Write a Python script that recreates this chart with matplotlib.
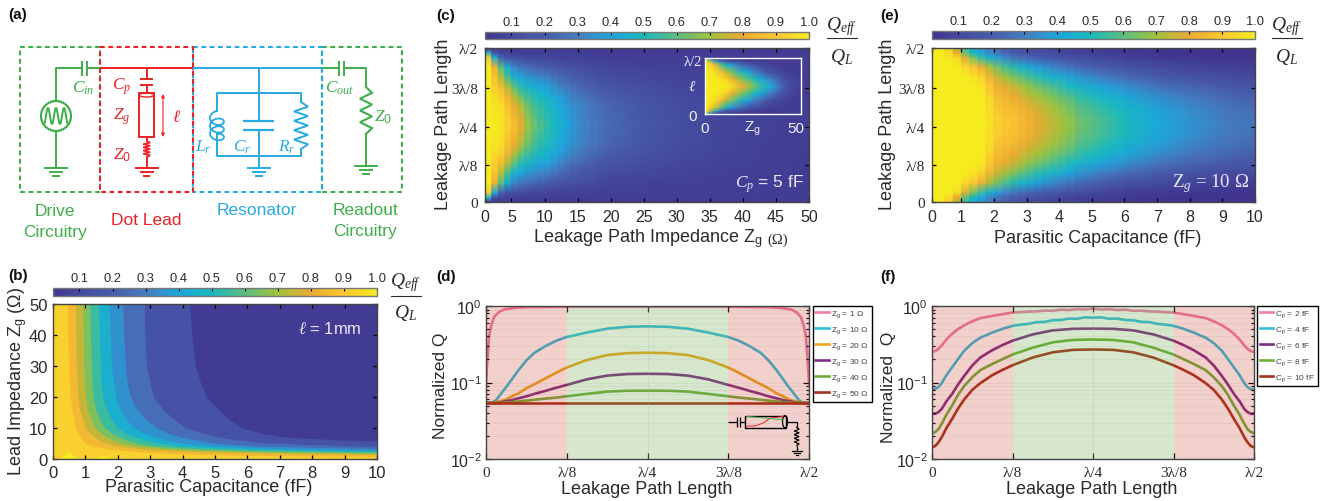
import matplotlib
matplotlib.use('Agg')
import matplotlib.pyplot as plt
from matplotlib.cm import ScalarMappable
from matplotlib.colors import LinearSegmentedColormap, Normalize
from matplotlib.lines import Line2D
from matplotlib.patches import Ellipse
import numpy as np

W, H = 1330, 502

plt.rcParams['font.family'] = ['Liberation Sans', 'DejaVu Sans']
plt.rcParams['mathtext.fontset'] = 'custom'
plt.rcParams['mathtext.rm'] = 'Liberation Sans'
plt.rcParams['mathtext.it'] = 'Liberation Serif:italic'
plt.rcParams['mathtext.bf'] = 'Liberation Sans:bold'
plt.rcParams['mathtext.fallback'] = 'cm'
TXT = '#2a2a2a'

# colour scale
cb_values = [0.02, 0.1, 0.2, 0.3, 0.4, 0.5, 0.6, 0.7, 0.8, 0.9, 1.0]
cb_colors = ['#40348f', '#444a9e', '#485cac', '#447dc0', '#1ea5dc', '#19b9be',
             '#5abe82', '#a0c33c', '#ebaa32', '#fac832', '#f5eb1e']
cb_ticks = [0.1, 0.2, 0.3, 0.4, 0.5, 0.6, 0.7, 0.8, 0.9, 1.0]

# panel b, capacitance where each Q level is reached at each impedance
b_z = [50, 40, 30, 25, 20, 16, 13, 10, 8, 7, 6, 5, 4, 3, 2.5, 2, 1.5, 1, 0.5, 0]
b_levels = [0.1, 0.2, 0.3, 0.4, 0.5, 0.6, 0.7, 0.8, 0.9]
b_c_01 = [4.23, 4.3, 4.4, 4.55, 4.74, 5.1, 5.4, 5.8, 6.5, 7.1, 8.8, 12, 30, 60, 60, 60, 60, 60, 60, 60]
b_c_02 = [2.84, 2.85, 2.9, 3.0, 3.1, 3.4, 3.7, 4.1, 4.7, 5.1, 5.7, 6.6, 9.5, 20, 60, 60, 60, 60, 60, 60]
b_c_03 = [2.16, 2.2, 2.25, 2.3, 2.4, 2.6, 2.85, 3.2, 3.6, 3.95, 4.4, 5, 6.2, 11, 20, 60, 60, 60, 60, 60]
b_c_04 = [1.75, 1.78, 1.82, 1.88, 1.95, 2.08, 2.25, 2.5, 2.85, 3.15, 3.5, 4, 5, 7.5, 11, 20, 40, 60, 60, 60]
b_c_05 = [1.42, 1.45, 1.48, 1.5, 1.55, 1.66, 1.8, 2, 2.3, 2.55, 2.85, 3.2, 4, 6, 8.5, 13, 25, 60, 60, 60]
b_c_06 = [1.15, 1.17, 1.2, 1.22, 1.25, 1.33, 1.44, 1.6, 1.85, 2.05, 2.3, 2.6, 3.2, 4.6, 6.3, 10, 18, 50, 60, 60]
b_c_07 = [.93, .95, .97, .99, 1.02, 1.08, 1.17, 1.3, 1.5, 1.65, 1.85, 2.1, 2.6, 3.7, 5, 7, 11.5, 30, 60, 60]
b_c_08 = [.7, .72, .74, .76, .78, .84, .91, 1, 1.17, 1.3, 1.42, 1.6, 2, 2.8, 3.7, 5, 7.8, 14, 40, 60]
b_c_09 = [.46, .47, .5, .52, .55, .6, .65, .7, .8, .85, .92, 1, 1.25, 1.8, 2.3, 3, 4, 6, 12, 60]
b_curves = [b_c_01, b_c_02, b_c_03, b_c_04, b_c_05, b_c_06, b_c_07, b_c_08, b_c_09]
b_peak_c = [0.2, 0.5, 0.8]
b_peak_z = [0, 2.2, 0]
b_peak2_c = [1.3, 1.5, 1.8]
b_peak2_z = [0, 1, 0]

# panel c, half of the lead length (the other half is the same)
c_z = [1, 2, 3, 4, 5, 6, 7, 8, 9, 10, 11, 12, 13, 14, 15, 16, 17, 18, 20, 25, 30, 35, 40, 45, 50]
c_h = [0, 0.015, 0.03, 0.0625, 0.125, 0.1875, 0.25, 0.3125, 0.375, 0.5]
c_q = [
    [.10, .06, .055, .055, .055, .055, .054, .054, .054, .054, .054, .054, .054, .054, .054, .054, .054, .054, .054, .054, .054, .054, .054, .054, .054],
    [.25, .08, .06, .058, .056, .055, .055, .055, .055, .054, .054, .054, .054, .054, .054, .054, .054, .054, .054, .054, .054, .054, .054, .054, .054],
    [.50, .15, .09, .07, .065, .06, .06, .058, .056, .058, .055, .055, .055, .055, .055, .055, .054, .054, .054, .054, .054, .054, .054, .054, .054],
    [.90, .45, .22, .15, .12, .105, .10, .095, .09, .087, .08, .075, .072, .07, .068, .066, .065, .063, .06, .058, .057, .056, .055, .054, .054],
    [1, .82, .60, .42, .33, .28, .25, .23, .21, .194, .18, .165, .15, .14, .127, .115, .105, .098, .084, .075, .066, .06, .058, .055, .054],
    [1, .88, .72, .56, .45, .40, .36, .34, .32, .305, .27, .24, .22, .20, .18, .165, .15, .14, .115, .095, .0785, .07, .0617, .057, .054],
    [1, .92, .85, .72, .60, .52, .47, .44, .41, .393, .35, .31, .28, .25, .23, .21, .195, .18, .157, .12, .093, .078, .066, .058, .054],
    [1, .95, .92, .82, .72, .62, .56, .52, .48, .45, .42, .38, .34, .31, .285, .26, .245, .225, .197, .15, .11, .09, .071, .06, .054],
    [1, .98, .96, .87, .80, .72, .63, .57, .53, .505, .46, .41, .37, .34, .315, .29, .275, .255, .228, .165, .123, .098, .076, .062, .055],
    [1, 1, .98, .92, .87, .80, .70, .63, .58, .542, .50, .45, .41, .36, .33, .31, .29, .27, .245, .17, .13, .10, .078, .065, .055],
]

# inset of panel c
i_z = [0, 2, 5, 8, 11, 14, 17, 20, 23, 26, 29, 32, 35, 38, 41, 44, 50]
i_h = [0, 0.03, 0.0625, 0.125, 0.25, 0.375, 0.5]
i_q = [
    [.60, .20, .08, .05, .05, .05, .05, .05, .05, .05, .05, .05, .05, .05, .05, .05, .05],
    [.97, .60, .25, .13, .10, .08, .07, .06, .05, .05, .05, .05, .05, .05, .05, .05, .05],
    [1, .85, .55, .30, .20, .15, .12, .10, .08, .07, .06, .05, .05, .05, .05, .05, .05],
    [1, .97, .85, .65, .50, .38, .30, .24, .18, .14, .11, .08, .07, .06, .05, .05, .05],
    [1, 1, .97, .88, .75, .65, .55, .47, .40, .30, .25, .18, .14, .10, .08, .06, .05],
    [1, 1, 1, .98, .92, .82, .72, .65, .58, .50, .42, .35, .30, .22, .15, .10, .06],
    [1, 1, 1, 1, 1, .97, .88, .80, .72, .64, .56, .48, .41, .32, .20, .13, .06],
]

# panel e, one list per capacitance, low end of the lead up to the middle
e_c = [0, .25, .5, .75, 1, 1.25, 1.5, 1.75, 2, 2.25, 2.5, 2.75, 3, 3.25, 3.5, 3.75, 4, 4.25, 4.5, 4.75,
       5, 5.25, 5.5, 5.75, 6, 7, 8, 9, 10]
e_h = [0, 0.03, 0.0625, 0.125, 0.1875, 0.25, 0.3125, 0.375, 0.4375, 0.5]
e_cols = [
    [1, 1, 1, 1, 1, 1, 1, 1, 1, 1],
    [.99, 1, 1, 1, 1, 1, 1, 1, 1, 1],
    [.90, .95, 1, 1, 1, 1, 1, 1, 1, 1],
    [.72, .80, .95, 1, 1, 1, 1, 1, 1, 1],
    [.55, .62, .78, .95, 1, 1, 1, 1, 1, 1],
    [.43, .49, .65, .89, .97, 1, 1, 1, 1, 1],
    [.35, .40, .55, .82, .93, .98, 1, 1, 1, 1],
    [.29, .33, .46, .72, .83, .90, .93, .95, .96, .97],
    [.245, .272, .386, .637, .745, .82, .86, .885, .905, .92],
    [.205, .23, .33, .575, .695, .785, .83, .865, .885, .90],
    [.17, .19, .28, .52, .65, .75, .80, .85, .87, .88],
    [.145, .165, .25, .47, .605, .71, .765, .815, .84, .85],
    [.125, .14, .22, .42, .56, .67, .73, .78, .81, .82],
    [.11, .125, .20, .385, .525, .635, .70, .75, .78, .79],
    [.10, .11, .18, .35, .49, .60, .67, .72, .75, .76],
    [.088, .10, .165, .325, .46, .565, .64, .69, .72, .735],
    [.079, .09, .149, .30, .427, .532, .606, .656, .684, .705],
    [.07, .08, .135, .27, .395, .50, .58, .63, .66, .675],
    [.063, .07, .12, .24, .36, .46, .54, .59, .62, .635],
    [.058, .065, .11, .225, .34, .44, .52, .57, .60, .61],
    [.055, .06, .10, .21, .32, .42, .50, .55, .58, .59],
    [.05, .055, .09, .19, .295, .395, .475, .525, .555, .565],
    [.046, .05, .082, .175, .275, .375, .45, .505, .535, .545],
    [.042, .045, .074, .16, .26, .36, .43, .48, .51, .52],
    [.038, .0407, .067, .149, .246, .343, .414, .462, .491, .501],
    [.029, .031, .048, .11, .19, .27, .34, .385, .41, .42],
    [.0212, .0234, .035, .086, .149, .223, .286, .323, .349, .357],
    [.017, .019, .028, .07, .12, .19, .24, .275, .295, .305],
    [.0142, .0157, .0234, .0577, .10, .157, .206, .239, .259, .267],
]

# panels d and f, position along the lead (half, 1 = lambda/2)
line_x = [0, .01, .02, .03, .045, .0625, .08, .1, .125, .15, .1875, .22, .25, .3125, .375, .4375, .5]
rip_x = [0, .01, .02, .03, .045, .0625, .08, .1, .125, .15, .1875, .22, .25, .275, .3, .325, .35, .375, .4, .425, .45, .475, .5]

d_pink_x = [0, .004, .01, .0165, .025, .04, .056, .087, .128, .25, .375, .5]
d_pink = [.096, .194, .413, .558, .718, .834, .90, .945, .965, .975, .975, .975]
d_10 = [.054, .0545, .055, .058, .070, .087, .11, .144, .194, .245, .305, .355, .393, .45, .505, .535, .542]
d_20 = [.054, .054, .054, .055, .057, .060, .066, .072, .084, .095, .115, .136, .157, .197, .228, .242, .245]
d_30 = [.054, .054, .054, .054, .055, .057, .059, .062, .066, .071, .0785, .086, .093, .11, .123, .129, .13]
d_40 = [.054, .054, .054, .054, .054, .055, .0553, .0565, .058, .0595, .0617, .0637, .066, .071, .076, .078, .078]
d_50 = [.0537, .0537, .0537, .0537, .0537, .0537, .0537, .0537, .0537, .0537, .0537, .0537, .0537, .0537, .0537, .0537, .0537]
d_labels = ['1', '10', '20', '30', '40', '50']
d_colors = ['#f07daa', '#32bedc', '#ebaa1e', '#7d2d87', '#6eaf3c', '#a5321e']

f_2 = [.25, .258, .275, .305, .365, .434, .495, .56, .63, .695, .742, .782, .82, .83, .845, .85, .87, .865, .895, .885, .91, .90, .923]
f_4 = [.08, .082, .087, .098, .125, .158, .2, .26, .327, .385, .45, .505, .55, .57, .585, .615, .62, .65, .655, .685, .68, .71, .703]
f_6 = [.039, .039, .041, .045, .057, .071, .093, .122, .167, .212, .265, .31, .352, .425, .48, .503, .506]
f_8 = [.0217, .0225, .0245, .0288, .038, .05, .068, .09, .117, .145, .175, .203, .232, .285, .335, .36, .365]
f_10 = [.0142, .0148, .0165, .0192, .0255, .0334, .045, .06, .08, .098, .125, .147, .168, .212, .248, .267, .27]
f_labels = ['2', '4', '6', '8', '10']
f_colors = ['#f07daa', '#32bedc', '#7d2d87', '#6eaf3c', '#a5321e']

lam_ticks = [0, 0.25, 0.5, 0.75, 1]
lam_ticks_heat = [0, 0.238, 0.488, 0.74, 1]
lam_labels = ['0', 'λ/8', 'λ/4', '3λ/8', 'λ/2']

cmap = LinearSegmentedColormap.from_list('q', [((v - 0.02) / 0.98, c) for v, c in zip(cb_values, cb_colors)])
norm = Normalize(0.02, 1.0)


def add_ax(x0, y0, x1, y1):
    return fig.add_axes([x0 / W, 1 - y1 / H, (x1 - x0) / W, (y1 - y0) / H])


def style(ax, size=11.5, pad=5):
    ax.tick_params(which='both', direction='in', top=True, right=True, labelsize=size,
                   colors='black', labelcolor=TXT, width=0.9, length=3, pad=pad)
    for s in ax.spines.values():
        s.set_linewidth(1)
        s.set_color('#444444')


def lam_axis(axis, ticks):
    axis.set_ticks(ticks)
    axis.set_ticklabels(lam_labels, family='Liberation Serif', fontsize=11)


def add_cbar(x0, y0, x1, y1):
    cax = add_ax(x0, y0, x1, y1)
    cb = fig.colorbar(ScalarMappable(norm, cmap), cax=cax, orientation='horizontal')
    cb.set_ticks(cb_ticks)
    cb.set_ticklabels(['%.1f' % t for t in cb_ticks])
    cax.xaxis.set_ticks_position('top')
    cax.tick_params(direction='in', length=2.5, width=0.8, labelsize=9.3, labelcolor=TXT, pad=3)
    cb.outline.set_edgecolor('#777777')
    cb.outline.set_linewidth(1)


def heat(ax, x, h, q, nstep=0):
    # first nstep columns keep one value per cell, the rest are blended
    hh = np.array(h)
    hh = np.r_[hh, 1 - hh[-2::-1]]
    q = np.array(q)
    qq = np.vstack([q, q[-2::-1]])
    x = np.array(x, dtype=float)
    if nstep:
        keep = []
        xx = []
        for i in range(nstep):
            xx += [x[i], x[i + 1]]
            keep += [i, i]
        xx += list(x[nstep:])
        keep += list(range(nstep, len(x)))
        x = np.array(xx)
        qq = qq[:, keep]
    ax.pcolormesh(x, hh, qq, shading='gouraud', cmap=cmap, norm=norm)


def line_panel(ax, curves, xs, labels, colors, prefix, lx, ly):
    for x, y, c in zip(xs, curves, colors):
        x = np.array(x)
        y = np.array(y)
        ax.plot(np.r_[x, 1 - x[-2::-1]], np.r_[y, y[-2::-1]], color=c, lw=1.9, zorder=1)
    ax.set_yscale('log')
    ax.set_xlim(0, 1)
    ax.set_ylim(0.01, 1)
    ax.axvspan(0, 0.25, color='#c82e17', alpha=0.22, lw=0, zorder=2)
    ax.axvspan(0.75, 1, color='#c82e17', alpha=0.22, lw=0, zorder=2)
    ax.axvspan(0.25, 0.75, color='#63a33f', alpha=0.25, lw=0, zorder=2)
    ax.grid(which='both', axis='y', color='#aaaaaa', alpha=0.22, lw=0.5, zorder=3)
    ax.axvline(0.5, color='#aaaaaa', alpha=0.3, lw=0.5, zorder=3)
    style(ax, 11.5)
    ax.tick_params(which='major', length=4.5)
    ax.tick_params(which='minor', length=2.5)
    ax.tick_params(axis='y', pad=3)
    lam_axis(ax.xaxis, lam_ticks)
    ax.set_yticks([0.01, 0.1, 1], [r'$\mathregular{10^{-2}}$', r'$\mathregular{10^{-1}}$', r'$\mathregular{10^{0}}$'])
    handles = [Line2D([], [], color=c, lw=1.9) for c in colors]
    names = [prefix + ' = ' + n + (' Ω' if prefix.startswith('Z') else ' fF') for n in labels]
    fig.legend(handles, names, loc='upper left', bbox_to_anchor=(lx / W, 1 - ly / H), borderaxespad=0,
               fontsize=6, frameon=True, fancybox=False, edgecolor='black', framealpha=1,
               labelspacing=0.62, handlelength=1.6, handletextpad=0.3, borderpad=0.3, labelcolor='#444444')


def zigzag(x, y0, y1, w, n=6, color='k', lw=1.4):
    ys = np.linspace(y0, y1, 2 * n + 1)
    xs = np.r_[[x], [x + w * (-1) ** i for i in range(2 * n - 1)], [x]]
    ov.plot(xs, ys, color=color, lw=lw, solid_joinstyle='miter')


def ground(x, y, w, color, lw=1.4):
    ov.plot([x - w, x + w], [y, y], color=color, lw=lw)
    ov.plot([x - w * .55, x + w * .55], [y + 4, y + 4], color=color, lw=lw)
    ov.plot([x - w * .25, x + w * .25], [y + 8, y + 8], color=color, lw=lw)


def seg(xs, ys, color, lw=1.4):
    ov.plot(xs, ys, color=color, lw=lw, solid_capstyle='butt')


def box(x0, y0, x1, y1, color):
    ov.plot([x0, x1, x1, x0, x0], [y0, y0, y1, y1, y0], color=color, lw=1.5, dashes=(2.3, 1.7))


def fraction(cx, yline, half, ytop, ybot):
    ov.plot([cx - half, cx + half], [yline, yline], color=TXT, lw=0.8)
    ov.text(cx, ytop, r'$Q_{eff}$', fontsize=14, ha='center', va='center', color=TXT)
    ov.text(cx, ybot, r'$Q_{L}$', fontsize=14, ha='center', va='center', color=TXT)


fig = plt.figure(figsize=(W / 100, H / 100), dpi=100)

# panel b
ax = add_ax(53, 305, 377, 460)
ax.set_facecolor(cmap(norm(0.05)))
for lev, cc in zip(b_levels, b_curves):
    ax.fill_betweenx(b_z, 0, cc, color=cmap(norm(min(lev + 0.05, 0.92))), lw=0)
ax.fill(b_peak_c, b_peak_z, color=cb_colors[-1], lw=0)
ax.fill(b_peak2_c, b_peak2_z, color=cb_colors[-1], lw=0)
ax.set_xlim(0, 10)
ax.set_ylim(0, 50)
style(ax, 12, 4)
ax.set_xticks(range(0, 11))
ax.set_yticks(range(0, 51, 10))
add_cbar(53, 289, 377, 297)

# panel c, the axis starts at the first cell although its label says 0
ax = add_ax(485, 49, 809, 203)
heat(ax, c_z, c_h, c_q, 17)
ax.set_xlim(1, 50)
ax.set_ylim(0, 1)
style(ax)
ax.set_xticks([1] + list(range(5, 51, 5)), ['0'] + [str(v) for v in range(5, 51, 5)])
lam_axis(ax.yaxis, lam_ticks_heat)
add_cbar(485, 33, 809, 40)

ins = add_ax(705, 59, 800.5, 115)
heat(ins, i_z, i_h, i_q)
ins.set_xlim(0, 50)
ins.set_ylim(0, 1)
ins.set_xticks([])
ins.set_yticks([])
for s in ins.spines.values():
    s.set_color('white')
    s.set_linewidth(1)

# panel e
ax = add_ax(932, 49, 1255, 203)
heat(ax, e_c, e_h, np.array(e_cols).T, 24)
ax.set_xlim(0.1, 10)
ax.set_ylim(0, 1)
style(ax)
ax.set_xticks([0.1] + list(range(1, 11)), [str(v) for v in range(0, 11)])
lam_axis(ax.yaxis, lam_ticks_heat)
add_cbar(932, 32, 1255, 40)

# panel d
ax = add_ax(486, 307, 809, 460)
line_panel(ax, [d_pink, d_10, d_20, d_30, d_40, d_50], [d_pink_x] + [line_x] * 5,
           d_labels, d_colors, r'Z$_{\mathrm{g}}$', 813, 307)

# panel f
ax = add_ax(932, 307, 1254, 460)
line_panel(ax, [f_2, f_4, f_6, f_8, f_10], [rip_x, rip_x, line_x, line_x, line_x],
           f_labels, f_colors, r'C$_{\mathrm{p}}$', 1257, 307)

# everything placed by hand goes on a full figure layer in pixels
ov = fig.add_axes([0, 0, 1, 1], zorder=10)
ov.set_xlim(0, W)
ov.set_ylim(H, 0)
ov.axis('off')

for s, x, y in [('(a)', 8, 15), ('(b)', 8, 276), ('(c)', 436, 16), ('(d)', 436, 277), ('(e)', 880, 16), ('(f)', 880, 277)]:
    ov.text(x, y, s, fontsize=11, fontweight='bold', va='center', color='#111111')

LBL = 13
ov.text(209, 488, 'Parasitic Capacitance (fF)', fontsize=LBL, ha='center', va='center', color=TXT)
ov.text(18, 381, r'Lead Impedance Z$_{\mathrm{g}}$ (Ω)', fontsize=LBL, rotation=90, ha='center', va='center', color=TXT)
ov.text(763, 239, r'Leakage Path Impedance Z$_{\mathrm{g}}$', fontsize=LBL, ha='right', va='center', color=TXT)
ov.text(767, 240, '(Ω)', fontsize=10.5, family='Liberation Serif', va='center', color=TXT)
ov.text(443, 124, 'Leakage Path Length', fontsize=LBL, rotation=90, ha='center', va='center', color=TXT)
ov.text(1098, 239, 'Parasitic Capacitance (fF)', fontsize=LBL, ha='center', va='center', color=TXT)
ov.text(888, 124, 'Leakage Path Length', fontsize=LBL, rotation=90, ha='center', va='center', color=TXT)
ov.text(647, 490, 'Leakage Path Length', fontsize=LBL, ha='center', va='center', color=TXT)
ov.text(441, 386, 'Normalized Q', fontsize=12.5, rotation=90, ha='center', va='center', color=TXT)
ov.text(1092, 490, 'Leakage Path Length', fontsize=LBL, ha='center', va='center', color=TXT)
ov.text(889, 387, 'Normalized  Q', fontsize=12.5, rotation=90, ha='center', va='center', color=TXT)

fraction(406, 297, 15, 283, 313)
fraction(842, 39, 15, 27, 57)
fraction(1287, 39, 15, 27, 57)

ov.text(330, 329, r'$\ell$ = 1mm', fontsize=12, color='#e8e8f4', ha='center', va='center')
ov.text(770, 184, r'$C_p$ = 5 fF', fontsize=12.5, color='#e8e8f4', ha='center', va='center')
ov.text(1211, 184, r'Z$_g$ = 10 Ω', fontsize=13.5, family='Liberation Serif', color='#e8e8f4', ha='center', va='center')

# inset labels
ov.text(693, 62, 'λ/2', fontsize=10.5, color='#f0f0f8', ha='center', va='center', family='Liberation Serif')
for s, x, y in [('0', 693, 117), ('0', 705, 129), ('50', 796, 129)]:
    ov.text(x, y, s, fontsize=11, color='#f0f0f8', ha='center', va='center')
ov.text(692, 87, r'$\ell$', fontsize=11, color='#f0f0f8', ha='center', va='center')
ov.text(752, 129, r'Z$_{\mathrm{g}}$', fontsize=11, color='#f0f0f8', ha='center', va='center')

# panel a, circuit
GRN, RED, BLU = '#3fae49', '#ed2024', '#27aae1'
box(20, 48, 100, 193, GRN)
box(322, 48, 402, 193, GRN)
box(193, 48, 322, 193, BLU)
box(100, 48, 193, 193, RED)

# drive
seg([56, 56, 82], [102, 69, 69], GRN)
seg([82, 82], [62, 77], GRN)
seg([86.5, 86.5], [62, 77], GRN)
seg([86.5, 100], [69, 69], GRN)
seg([56, 56], [132, 168], GRN)
t = np.linspace(-1, 1, 80)
ov.add_patch(plt.Circle((56, 117), 15, fill=False, color=GRN, lw=1.6))
ov.plot(56 + 12 * t, 117 - 8 * np.cos(3.0 * np.pi * t), color=GRN, lw=1.4)
ground(56, 169, 11, GRN)
# dot lead
seg([100, 193], [69, 69], RED)
seg([146.7, 146.7], [69, 80], RED)
seg([140, 153], [80, 80], RED)
seg([140, 153], [86, 86], RED)
seg([146.7, 146.7], [86, 94], RED)
ov.add_patch(plt.Rectangle((139, 94), 15, 44, fill=False, ec=RED, lw=1.4))
ov.add_patch(Ellipse((146.5, 96), 15, 4, fill=False, ec=RED, lw=1))
seg([146.7, 146.7], [138, 142], RED)
zigzag(146.7, 142, 158, 3.5, 5, RED, 1.2)
seg([146.7, 146.7], [158, 168], RED)
ground(146.7, 169, 11, RED)
ov.annotate('', xy=(163, 95), xytext=(163, 138), arrowprops=dict(arrowstyle='<|-|>', color=RED, lw=0.8, mutation_scale=5, shrinkA=0, shrinkB=0))
# resonator
seg([193, 322], [69, 69], BLU)
seg([259, 259], [69, 121.5], BLU)
seg([243, 274], [121.5, 121.5], BLU, 1.6)
seg([243, 274], [130.5, 130.5], BLU, 1.6)
seg([259, 259], [130.5, 168], BLU)
seg([217, 217, 301, 301], [112, 94, 94, 103], BLU)
seg([217, 217, 301, 301], [135, 157, 157, 150], BLU)
t = np.linspace(np.pi / 2, np.pi / 2 + 6 * np.pi, 150)
ov.plot(217 + 7 * np.cos(t), 112 + 23 * (t - t[0]) / (t[-1] - t[0]) - 5 * np.sin(t) + 5, color=BLU, lw=1.3)
zigzag(301, 103, 150, 7, 5, BLU, 1.4)
ground(259, 169, 11, BLU)
# readout
seg([322, 339], [69, 69], GRN)
seg([339, 339], [62, 77], GRN)
seg([343.5, 343.5], [62, 77], GRN)
seg([343.5, 366, 366], [69, 69, 88], GRN)
zigzag(366, 88, 135, 6, 4, GRN, 1.5)
seg([366, 366], [135, 167], GRN)
ground(366, 167, 11, GRN)

for s, x, y, c in [(r'$C_{in}$', 83, 88, GRN), (r'$C_{out}$', 340, 88, GRN), (r'$Z_0$', 383, 117, GRN),
                   (r'$C_p$', 122, 87, RED), (r'$Z_g$', 122, 117, RED), (r'$Z_0$', 122, 155, RED),
                   (r'$\ell$', 177, 117, RED), (r'$L_r$', 203, 147, BLU), (r'$C_r$', 242, 147, BLU),
                   (r'$R_r$', 287, 147, BLU)]:
    ov.text(x, y, s, fontsize=12.5, color=c, ha='center', va='center')

for s, x, y, c in [('Drive', 55, 212, GRN), ('Circuitry', 55, 233, GRN), ('Dot Lead', 146, 221, RED),
                   ('Resonator', 257, 211, BLU), ('Readout', 365, 211, GRN), ('Circuitry', 365, 232, GRN)]:
    ov.text(x, y, s, fontsize=12.5, color=c, ha='center', va='center')


# small coax sketch in panel d
def px(zx):
    return 430 + zx / 3


def py(zy):
    return 255 + zy / 3


seg([px(895), px(920)], [py(505), py(505)], 'k', 0.9)
seg([px(920), px(920)], [py(490), py(520)], 'k', 0.9)
seg([px(930), px(930)], [py(490), py(520)], 'k', 0.9)
seg([px(930), px(945)], [py(505), py(505)], 'k', 0.9)
ov.add_patch(plt.Rectangle((px(945), py(485)), (1068 - 945) / 3, 37 / 3, fill=False, ec='k', lw=1))
ov.add_patch(Ellipse((px(1065), py(503)), 5, 37 / 3, fill=False, ec='k', lw=0.9))
ov.plot([px(950), px(975), px(1000), px(1020), px(1060)], [py(516), py(516), py(507), py(493), py(487)], color=RED, lw=0.7)
ov.plot([px(950), px(1060)], [py(487), py(497)], color=GRN, lw=0.7)
seg([px(1070), px(1100), px(1100)], [py(503), py(503), py(520)], 'k', 0.9)
zigzag(px(1100), py(520), py(575), 2.5, 5, 'k', 0.9)
seg([px(1100), px(1100)], [py(575), py(592)], 'k', 0.9)
ov.plot([px(1085), px(1117)], [py(592), py(592)], color='k', lw=0.9)
ov.plot([px(1092), px(1110)], [py(598), py(598)], color='k', lw=0.9)
ov.plot([px(1097), px(1105)], [py(604), py(604)], color='k', lw=0.9)

ov.set_xlim(0, W)
ov.set_ylim(H, 0)
fig.savefig('out.png', dpi=100)
